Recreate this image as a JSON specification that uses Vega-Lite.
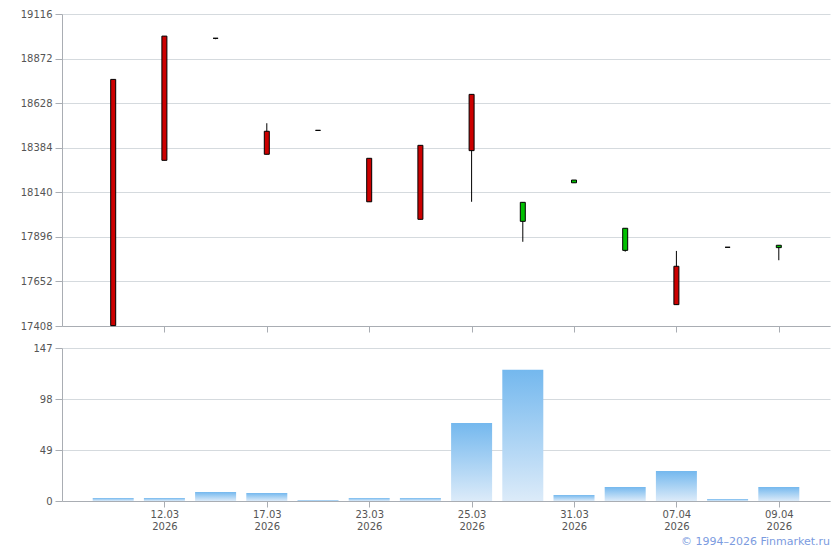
{
  "$schema": "https://vega.github.io/schema/vega-lite/v6.json",
  "background": "white",
  "padding": {"left": 20, "top": 9, "right": 8, "bottom": 2},
  "config": {
    "view": {"stroke": null},
    "font": "DejaVu Sans",
    "axis": {
      "labelFont": "DejaVu Sans",
      "labelFontSize": 10,
      "labelColor": "#555555",
      "domainColor": "#a9adb3",
      "tickColor": "#a9adb3",
      "gridColor": "#d5dade",
      "gridWidth": 1,
      "title": null
    }
  },
  "title": {
    "text": "© 1994–2026 Finmarket.ru",
    "orient": "bottom",
    "anchor": "end",
    "fontSize": 11,
    "fontWeight": "normal",
    "font": "DejaVu Sans",
    "color": "#7b9be0",
    "offset": 5
  },
  "datasets": {
    "d": [
      {"date": "2026-03-11", "open": 18758, "high": 18758, "low": 17410, "close": 17410, "volume": 2.9},
      {"date": "2026-03-12", "open": 18995, "high": 18995, "low": 18315, "close": 18315, "volume": 2.9},
      {"date": "2026-03-13", "open": 18983, "high": 18983, "low": 18978, "close": 18983, "volume": 8.6},
      {"date": "2026-03-17", "open": 18474, "high": 18518, "low": 18348, "close": 18348, "volume": 7.7},
      {"date": "2026-03-18", "open": 18479, "high": 18479, "low": 18479, "close": 18479, "volume": 1},
      {"date": "2026-03-23", "open": 18326, "high": 18326, "low": 18088, "close": 18088, "volume": 3},
      {"date": "2026-03-24", "open": 18397, "high": 18397, "low": 17992, "close": 17992, "volume": 3},
      {"date": "2026-03-25", "open": 18676, "high": 18676, "low": 18088, "close": 18368, "volume": 75},
      {"date": "2026-03-26", "open": 17981, "high": 18085, "low": 17869, "close": 18085, "volume": 126},
      {"date": "2026-03-31", "open": 18192, "high": 18207, "low": 18192, "close": 18207, "volume": 5.8},
      {"date": "2026-04-02", "open": 17822, "high": 17943, "low": 17815, "close": 17943, "volume": 13.5},
      {"date": "2026-04-07", "open": 17735, "high": 17819, "low": 17525, "close": 17525, "volume": 28.8},
      {"date": "2026-04-08", "open": 17839, "high": 17839, "low": 17839, "close": 17839, "volume": 1.9},
      {"date": "2026-04-09", "open": 17837, "high": 17850, "low": 17768, "close": 17850, "volume": 13.5}
    ]
  },
  "spacing": 10,
  "vconcat": [
    {
      "width": 768,
      "height": 312,
      "data": {"name": "d"},
      "encoding": {
        "x": {
          "field": "date",
          "type": "ordinal",
          "sort": null,
          "scale": {"type": "point", "padding": 1},
          "axis": {
            "values": ["2026-03-12", "2026-03-17", "2026-03-23", "2026-03-25", "2026-03-31", "2026-04-07", "2026-04-09"],
            "labels": false,
            "tickSize": 6,
            "title": null
          }
        }
      },
      "layer": [
        {
          "mark": {"type": "rule", "color": "black", "strokeWidth": 1},
          "encoding": {
            "y": {
              "field": "low",
              "type": "quantitative",
              "scale": {"domain": [17408, 19116], "nice": false, "zero": false},
              "axis": {
                "values": [17408, 17652, 17896, 18140, 18384, 18628, 18872, 19116],
                "format": "d",
                "tickSize": 7,
                "labelPadding": 3,
                "title": null
              }
            },
            "y2": {"field": "high"}
          }
        },
        {
          "mark": {"type": "bar", "size": 5, "stroke": "black", "strokeWidth": 1},
          "encoding": {
            "y": {"field": "open", "type": "quantitative"},
            "y2": {"field": "close"},
            "color": {
              "condition": {"test": "datum.close > datum.open", "value": "#00c000"},
              "value": "#cc0000"
            }
          }
        }
      ]
    },
    {
      "width": 768,
      "height": 153,
      "data": {"name": "d"},
      "mark": {
        "type": "bar",
        "size": 41,
        "color": {
          "gradient": "linear",
          "x1": 0, "y1": 0, "x2": 0, "y2": 1,
          "stops": [
            {"offset": 0, "color": "#74b8ee"},
            {"offset": 1, "color": "#dcebf9"}
          ]
        }
      },
      "encoding": {
        "x": {
          "field": "date",
          "type": "ordinal",
          "sort": null,
          "scale": {"type": "point", "padding": 1},
          "axis": {
            "values": ["2026-03-12", "2026-03-17", "2026-03-23", "2026-03-25", "2026-03-31", "2026-04-07", "2026-04-09"],
            "labelExpr": "[slice(datum.value,8,10)+'.'+slice(datum.value,5,7), slice(datum.value,0,4)]",
            "labelAngle": 0,
            "labelLineHeight": 12,
            "labelPadding": 2,
            "tickSize": 6,
            "title": null
          }
        },
        "y": {
          "field": "volume",
          "type": "quantitative",
          "scale": {"domain": [0, 147], "nice": false},
          "axis": {
            "values": [0, 49, 98, 147],
            "format": "d",
            "tickSize": 7,
            "labelPadding": 3,
            "title": null
          }
        }
      }
    }
  ]
}
